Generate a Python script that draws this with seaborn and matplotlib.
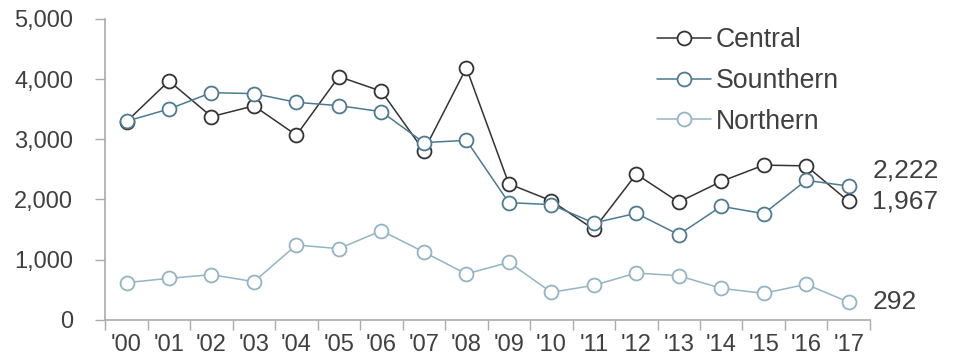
import matplotlib
matplotlib.use("Agg")
import matplotlib.pyplot as plt
import seaborn as sns
import pandas as pd
from matplotlib.ticker import FixedLocator, NullFormatter

years = ["'00", "'01", "'02", "'03", "'04", "'05", "'06", "'07", "'08",
         "'09", "'10", "'11", "'12", "'13", "'14", "'15", "'16", "'17"]
central = [3294, 3970, 3377, 3555, 3068, 4042, 3799, 2807, 4186,
           2259, 1977, 1502, 2420, 1955, 2299, 2570, 2558, 1967]
southern = [3300, 3503, 3775, 3759, 3614, 3559, 3459, 2944, 2982,
            1946, 1913, 1608, 1769, 1414, 1885, 1763, 2317, 2222]
northern = [616, 687, 749, 632, 1242, 1181, 1480, 1125, 760,
            954, 455, 571, 776, 731, 521, 438, 588, 292]
series_names = ["Central", "Sounthern", "Northern"]
series_colors = ["#333333", "#4d7a91", "#93b4c5"]
y_ticks = [0, 1000, 2000, 3000, 4000, 5000]

sns.set_theme(style="white")
plt.rcParams["font.family"] = ["Liberation Sans", "DejaVu Sans"]
text_color = "#404040"

fig = plt.figure(figsize=(9.57, 3.55), dpi=100)
ax = fig.add_axes([0.110, 0.0995, 0.799, 0.847])

for name, values, color in zip(series_names, [central, southern, northern], series_colors):
    df = pd.DataFrame({"year": years, "value": values})
    sns.lineplot(data=df, x="year", y="value", ax=ax, color=color, linewidth=1.1,
                 marker="o", markersize=10, markerfacecolor="white",
                 markeredgecolor=color, markeredgewidth=1.3, label=name,
                 sort=False)

ax.set_xlim(-0.5, len(years) - 0.5)
ax.set_ylim(0, 5000)
ax.set_yticks(y_ticks)
ax.set_yticklabels([f"{v:,}" for v in y_ticks])

# category labels sit between the boundary ticks
ax.xaxis.set_major_locator(FixedLocator([i - 0.5 for i in range(len(years) + 1)]))
ax.xaxis.set_major_formatter(NullFormatter())
ax.xaxis.set_minor_locator(FixedLocator(list(range(len(years)))))
ax.set_xticklabels(years, minor=True)
ax.tick_params(axis="x", which="minor", length=0, pad=10, labelsize=17, labelcolor=text_color)
ax.tick_params(axis="x", which="major", length=7, width=1, color="#aaaaaa", direction="out", bottom=True)
ax.tick_params(axis="y", length=7, width=1, color="#aaaaaa", direction="out", left=True,
               labelsize=17, labelcolor=text_color, pad=16)

ax.set_xlabel("")
ax.set_ylabel("")
for side in ["top", "right"]:
    ax.spines[side].set_visible(False)
for side in ["left", "bottom"]:
    ax.spines[side].set_color("#aaaaaa")
    ax.spines[side].set_linewidth(1.2)

# end-of-line value labels
last = len(years) - 1
ax.annotate(f"{southern[-1]:,}", (last, southern[-1]), xytext=(17, 11),
            textcoords="offset points", va="center", ha="left", fontsize=19, color=text_color)
ax.annotate(f"{central[-1]:,}", (last, central[-1]), xytext=(17, 0),
            textcoords="offset points", va="center", ha="left", fontsize=19, color=text_color)
ax.annotate(f"{northern[-1]:,}", (last, northern[-1]), xytext=(17, 0),
            textcoords="offset points", va="center", ha="left", fontsize=19, color=text_color)

leg = ax.legend(loc="upper left", bbox_to_anchor=(0.708, 1.008), frameon=False,
                fontsize=19.2, handlelength=2.0, handletextpad=0.2, labelspacing=0.55,
                borderaxespad=0)
for txt in leg.get_texts():
    txt.set_color(text_color)

fig.savefig("out.png", dpi=100)
